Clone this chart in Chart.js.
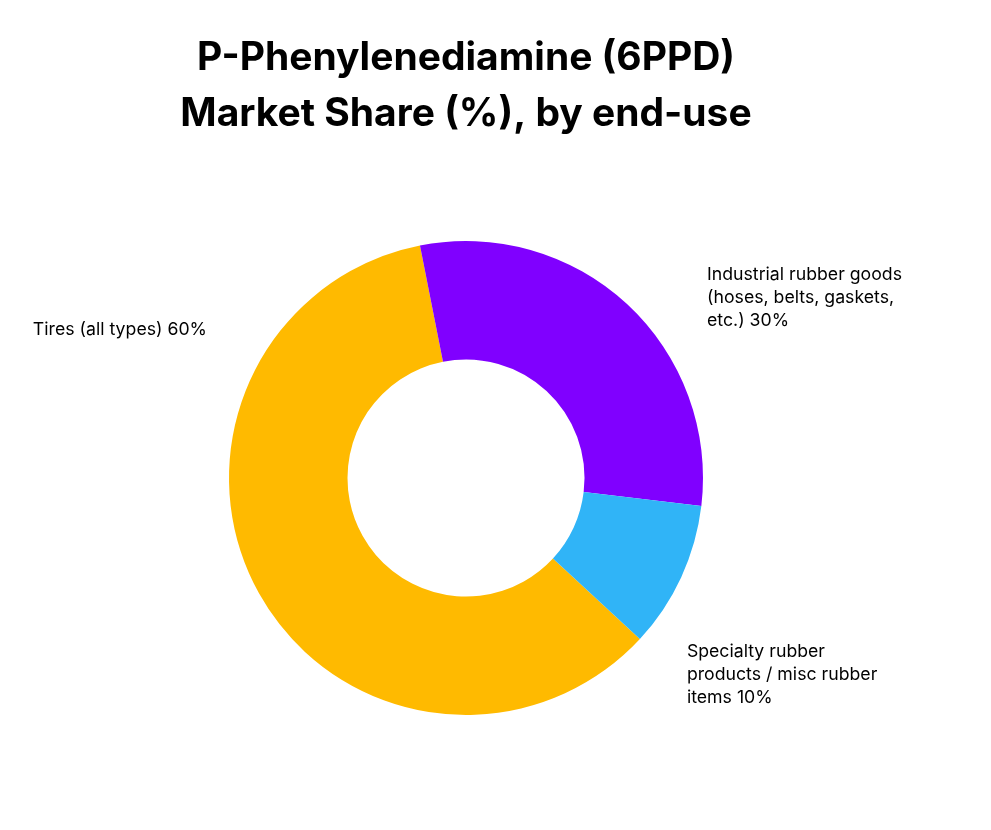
<!DOCTYPE html>
<html>
<head>
<meta charset="utf-8">
<script src="https://cdn.jsdelivr.net/npm/chart.js@4.4.0/dist/chart.umd.min.js"></script>
<style>
  html, body { margin: 0; padding: 0; background: #fff; }
  #wrap { width: 991px; height: 830px; position: relative; }
</style>
</head>
<body>
<div id="wrap"><canvas id="shareChart"></canvas></div>
<script>
// Данные диаграммы
const titleLines = ['P-Phenylenediamine (6PPD)', 'Market Share (%), by end-use'];
const categories = ['Tires (all types)', 'Industrial rubber goods (hoses, belts, gaskets, etc.)', 'Specialty rubber products / misc rubber items'];
const shares = [60, 30, 10];
const sliceColors = ['#FFBA00', '#8000FF', '#30B4F7'];
// подписи, разбитые на строки как в оригинале
const labelLines = [
    ['Tires (all types) 60%'],
    ['Industrial rubber goods', '(hoses, belts, gaskets,', 'etc.) 30%'],
    ['Specialty rubber', 'products / misc rubber', 'items 10%']
];

// Рисуем заголовок и внешние подписи
const outsideLabels = {
    id: 'outsideLabels',
    afterDraw(chart) {
        const ctx = chart.ctx;
        const arc = chart.getDatasetMeta(0).data[0];
        const cx = arc.x, cy = arc.y, r = arc.outerRadius;

        ctx.save();
        ctx.fillStyle = '#000';
        ctx.textAlign = 'center';
        ctx.textBaseline = 'alphabetic';
        ctx.font = 'bold 39px Inter';
        titleLines.forEach((line, i) => {
            ctx.fillText(line, cx, 70 + i * 56);
        });

        // смещения подписей относительно центра (в радиусах)
        const anchors = [
            { dx: -1.093, dy: -0.624, align: 'right' },
            { dx: 1.017, dy: -0.857, align: 'left' },
            { dx: 0.932, dy: 0.734, align: 'left' }
        ];
        ctx.font = '17.7px Inter';
        ctx.textBaseline = 'middle';
        labelLines.forEach((lines, i) => {
            const a = anchors[i];
            ctx.textAlign = a.align;
            lines.forEach((t, j) => {
                ctx.fillText(t, cx + a.dx * r, cy + a.dy * r + j * 23);
            });
        });
        ctx.restore();
    }
};

const ctx = document.getElementById('shareChart').getContext('2d');
new Chart(ctx, {
    type: 'doughnut',
    data: {
        labels: categories,
        datasets: [{
            data: shares,
            backgroundColor: sliceColors,
            borderWidth: 0
        }]
    },
    options: {
        responsive: true,
        maintainAspectRatio: false,
        animation: false,
        rotation: 132.8,
        cutout: '50%',
        layout: {
            padding: { top: 241, bottom: 115, left: 229, right: 288 }
        },
        plugins: {
            legend: { display: false },
            tooltip: { enabled: false }
        }
    },
    plugins: [outsideLabels]
});
</script>
</body>
</html>
